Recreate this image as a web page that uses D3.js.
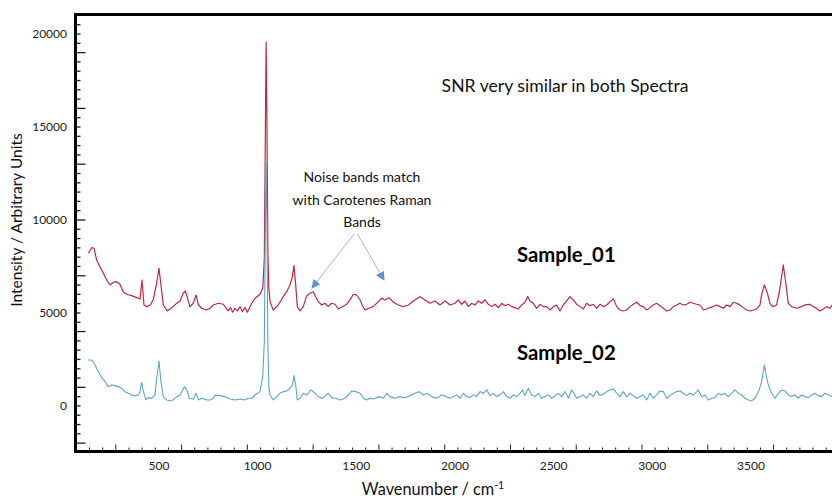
<!DOCTYPE html>
<html>
<head>
<meta charset="utf-8">
<script src="https://cdn.jsdelivr.net/npm/d3@7"></script>
<style>
  body { margin: 0; background: #fff; }
  svg { display: block; font-family: Lato, "Open Sans", sans-serif; }
</style>
</head>
<body>
<div id="chart"></div>
<script>
const W = 832, H = 500;

// [wavenumber cm-1, intensity]
const sample01 = [
  [142,8210],[159,8510],[171,8478],[184,7850],[201,7490],[218,7134],[235,6774],[252,6505],[269,6650],[286,6683],
  [302,6543],[319,6145],[336,6005],[362,5930],[387,5823],[404,5753],[414,6774],[424,5430],[438,5339],[455,5430],
  [471,5699],[488,6597],[500,7403],[510,6505],[522,5430],[542,5108],[565,5285],[590,5522],[607,5645],[623,6059],
  [634,6183],[644,5823],[657,5339],[674,5522],[688,5968],[700,5430],[717,5253],[738,5161],[759,5253],[775,5430],
  [801,5522],[826,5468],[851,5108],[863,5287],[873,5036],[885,5251],[897,5108],[911,5341],[922,5072],[936,5287],
  [948,5036],[958,5251],[970,5522],[987,5790],[1012,6005],[1026,6328],[1034,7941],[1039,14500],[1043,19570],[1047,15500],
  [1052,8200],[1057,6300],[1063,5608],[1079,5161],[1097,5339],[1113,5575],[1130,5876],[1147,6145],[1164,6505],[1176,6952],
  [1184,7543],[1193,6505],[1201,5339],[1215,5108],[1231,5339],[1249,5930],[1265,6059],[1282,6145],[1294,5876],[1307,5608],
  [1325,5430],[1341,5522],[1358,5339],[1375,5522],[1392,5468],[1409,5215],[1429,5339],[1451,5468],[1468,5699],[1485,6005],
  [1502,5968],[1519,5699],[1530,5430],[1544,5161],[1564,5253],[1586,5339],[1612,5608],[1629,5790],[1645,5699],[1666,5823],
  [1688,5575],[1713,5430],[1738,5339],[1764,5430],[1789,5645],[1823,5876],[1848,5699],[1874,5522],[1899,5645],[1924,5430],
  [1950,5645],[1975,5430],[2000,5520],[2017,5699],[2034,5466],[2051,5645],[2068,5341],[2085,5520],[2102,5430],[2119,5645],
  [2135,5520],[2152,5699],[2169,5466],[2186,5341],[2203,5466],[2220,5287],[2237,5520],[2254,5394],[2271,5466],[2287,5341],
  [2304,5287],[2321,5215],[2338,5430],[2355,5574],[2369,5878],[2380,5645],[2397,5520],[2414,5251],[2431,5466],[2448,5341],
  [2465,5341],[2482,5161],[2499,5341],[2515,5430],[2532,5108],[2549,5430],[2566,5645],[2583,5878],[2600,5699],[2617,5466],
  [2634,5341],[2651,5215],[2667,5520],[2684,5394],[2701,5466],[2718,5251],[2735,5466],[2752,5341],[2769,5430],[2786,5609],
  [2803,5753],[2820,5341],[2836,5161],[2853,5108],[2870,5161],[2887,5341],[2904,5466],[2921,5574],[2938,5394],[2955,5341],
  [2972,5161],[2988,5287],[3005,5430],[3022,5520],[3039,5394],[3056,5251],[3073,5108],[3090,5161],[3107,5341],[3124,5430],
  [3140,5520],[3157,5430],[3174,5466],[3191,5574],[3208,5520],[3225,5466],[3242,5430],[3259,5161],[3276,5215],[3292,5287],
  [3309,5341],[3326,5430],[3343,5341],[3360,5251],[3377,5430],[3394,5341],[3411,5574],[3428,5520],[3444,5430],[3461,5287],
  [3478,5161],[3495,5108],[3512,5161],[3529,5215],[3546,5430],[3554,5968],[3568,6505],[3580,6183],[3588,5878],[3596,5520],
  [3610,5341],[3630,5430],[3647,6326],[3664,7581],[3678,6505],[3689,5520],[3706,5341],[3731,5251],[3757,5341],[3774,5430],
  [3799,5466],[3816,5341],[3833,5251],[3850,5108],[3867,5215],[3884,5341],[3901,5251],[3911,5430]
];

const sample02 = [
  [142,2473],[159,2473],[176,2204],[193,1844],[210,1521],[227,1306],[243,1038],[260,1129],[277,1091],[294,1038],
  [311,952],[328,769],[345,683],[362,591],[379,554],[396,591],[404,769],[412,1274],[421,769],[434,323],
  [446,446],[463,414],[480,591],[488,1489],[500,2419],[510,1306],[522,500],[539,323],[565,269],[590,500],
  [607,591],[620,860],[629,1038],[641,860],[654,414],[674,376],[688,683],[700,323],[717,414],[742,323],
  [759,323],[775,414],[784,591],[809,554],[834,500],[860,376],[885,323],[911,376],[936,323],[953,414],
  [970,414],[987,591],[1012,769],[1026,1575],[1034,3457],[1039,9500],[1043,13060],[1047,10000],[1052,3200],[1057,1000],
  [1063,591],[1079,323],[1097,500],[1113,683],[1130,769],[1147,806],[1164,952],[1176,1129],[1184,1629],[1193,1129],
  [1201,323],[1215,414],[1231,683],[1249,591],[1271,860],[1291,683],[1307,500],[1325,414],[1341,500],[1358,683],
  [1375,446],[1396,414],[1417,323],[1443,414],[1463,629],[1477,806],[1497,769],[1519,683],[1535,414],[1553,323],
  [1569,414],[1586,376],[1603,446],[1620,500],[1637,414],[1654,683],[1671,500],[1696,414],[1721,500],[1747,446],
  [1772,554],[1797,683],[1818,769],[1840,591],[1857,683],[1882,500],[1907,414],[1933,591],[1958,500],[1975,413],
  [1992,502],[2009,592],[2026,413],[2043,681],[2059,502],[2076,449],[2093,592],[2110,502],[2127,771],[2144,681],
  [2161,861],[2178,556],[2195,681],[2211,502],[2228,592],[2245,771],[2262,502],[2279,413],[2296,592],[2313,502],
  [2330,681],[2343,861],[2355,556],[2372,950],[2389,592],[2406,502],[2423,681],[2439,413],[2456,502],[2473,592],
  [2490,413],[2507,556],[2524,681],[2541,502],[2558,771],[2575,413],[2591,861],[2603,681],[2617,413],[2634,502],
  [2651,592],[2667,413],[2684,681],[2701,502],[2718,807],[2735,556],[2752,628],[2769,771],[2786,861],[2803,914],
  [2820,681],[2836,502],[2853,771],[2870,502],[2887,681],[2904,556],[2921,413],[2938,502],[2955,592],[2972,323],
  [2988,681],[3005,413],[3022,592],[3039,807],[3056,771],[3073,413],[3090,556],[3107,681],[3124,771],[3140,807],
  [3157,681],[3174,556],[3191,681],[3208,592],[3225,771],[3233,861],[3250,502],[3267,592],[3284,323],[3301,413],
  [3318,449],[3335,681],[3351,592],[3368,681],[3385,502],[3402,681],[3419,861],[3436,681],[3453,592],[3470,413],
  [3487,323],[3504,269],[3520,413],[3529,592],[3542,861],[3554,1309],[3568,2205],[3580,1488],[3588,1130],[3605,681],
  [3622,413],[3639,681],[3656,861],[3672,807],[3689,592],[3706,502],[3723,592],[3740,413],[3757,592],[3774,502],
  [3791,449],[3808,592],[3824,681],[3841,556],[3858,502],[3875,681],[3892,592],[3911,502]
];

const xTickLabels = [500, 1000, 1500, 2000, 2500, 3000, 3500];
const yTickLabels = [0, 5000, 10000, 15000, 20000];

const pL = 75.5, pT = 14.5, pB = 451.5, pR = 832;

const x = d3.scaleLinear().domain([0, 4000]).range([60.3, 849.6]);
const y = d3.scaleLinear().domain([-2450, 21050]).range([pB, pT]);

const svg = d3.select('#chart').append('svg').attr('width', W).attr('height', H);

svg.append('clipPath').attr('id', 'clip')
  .append('rect').attr('x', pL).attr('y', pT).attr('width', pR - pL + 5).attr('height', pB - pT);

const line = d3.line().x(d => x(d[0])).y(d => y(d[1]));

const plot = svg.append('g').attr('clip-path', 'url(#clip)');
plot.append('path').datum(sample01).attr('d', line)
  .attr('fill', 'none').attr('stroke', '#b82a3e').attr('stroke-width', 1.2).attr('stroke-linejoin', 'round');
plot.append('path').datum(sample02).attr('d', line)
  .attr('fill', 'none').attr('stroke', '#5aa6c2').attr('stroke-width', 1.1).attr('stroke-linejoin', 'round');

// ticks, drawn inward
const xTicks = d3.range(148, 3911, 1000 / 15);
svg.append('g').selectAll('line').data(xTicks).enter().append('line')
  .attr('x1', d => x(d)).attr('x2', d => x(d))
  .attr('y1', pB).attr('y2', (d, i) => pB - (i % 5 == 2 ? 7 : 4))
  .attr('stroke', '#222').attr('stroke-width', 1);

const yTicks = d3.range(-2000, 21001, 500);
svg.append('g').selectAll('line').data(yTicks).enter().append('line')
  .attr('x1', pL).attr('x2', d => pL + ((d - 1000) % 3000 == 0 ? 10 : 5))
  .attr('y1', d => y(d)).attr('y2', d => y(d))
  .attr('stroke', '#222').attr('stroke-width', 1.3);

// frame
svg.append('path')
  .attr('d', `M${pR + 5},${pT}H${pL}V${pB}H${pR + 5}`)
  .attr('fill', 'none').attr('stroke', '#000').attr('stroke-width', 3);

svg.append('g').selectAll('text').data(xTickLabels).enter().append('text')
  .attr('x', d => x(d)).attr('y', 470).attr('text-anchor', 'middle')
  .attr('font-size', 12).attr('fill', '#222').text(d => d);

svg.append('g').selectAll('text').data(yTickLabels).enter().append('text')
  .attr('x', 67).attr('y', d => y(d) + 4).attr('text-anchor', 'end')
  .attr('font-size', 12).attr('fill', '#222').text(d => d);

// axis titles
const xt = svg.append('text').attr('x', 433).attr('y', 495).attr('text-anchor', 'middle')
  .attr('font-size', 16.3).attr('fill', '#111');
xt.append('tspan').text('Wavenumber / cm');
xt.append('tspan').attr('font-size', 10.5).attr('dy', -6).text('-1');

svg.append('text').attr('transform', 'translate(22,220) rotate(-90)')
  .attr('text-anchor', 'middle').attr('font-size', 15.5).attr('fill', '#111')
  .text('Intensity / Arbitrary Units');

// annotations
svg.append('text').attr('x', 565).attr('y', 92).attr('text-anchor', 'middle')
  .attr('font-size', 17.6).attr('fill', '#111').text('SNR very similar in both Spectra');

const note = ['Noise bands match', 'with Carotenes Raman', 'Bands'];
svg.append('g').selectAll('text').data(note).enter().append('text')
  .attr('x', 362).attr('y', (d, i) => 182 + i * 22.5).attr('text-anchor', 'middle')
  .attr('font-size', 14).attr('fill', '#111').text(d => d);

svg.append('text').attr('x', 517).attr('y', 262).attr('font-size', 20.3).attr('font-weight', 'bold')
  .attr('fill', '#000').text('Sample_01');
svg.append('text').attr('x', 517).attr('y', 360).attr('font-size', 20.3).attr('font-weight', 'bold')
  .attr('fill', '#000').text('Sample_02');

const defs = svg.append('defs');
defs.append('marker').attr('id', 'head').attr('viewBox', '0 0 10 10')
  .attr('refX', 9).attr('refY', 5).attr('markerWidth', 9).attr('markerHeight', 9)
  .attr('markerUnits', 'userSpaceOnUse').attr('orient', 'auto')
  .append('path').attr('d', 'M0,0L10,5L0,10Z').attr('fill', '#5b93d3');

const arrows = [[354, 234, 312, 288], [357.5, 234, 384, 280]];
svg.append('g').selectAll('line').data(arrows).enter().append('line')
  .attr('x1', d => d[0]).attr('y1', d => d[1]).attr('x2', d => d[2]).attr('y2', d => d[3])
  .attr('stroke', '#a9b5c8').attr('stroke-width', 1).attr('marker-end', 'url(#head)');
</script>
</body>
</html>
